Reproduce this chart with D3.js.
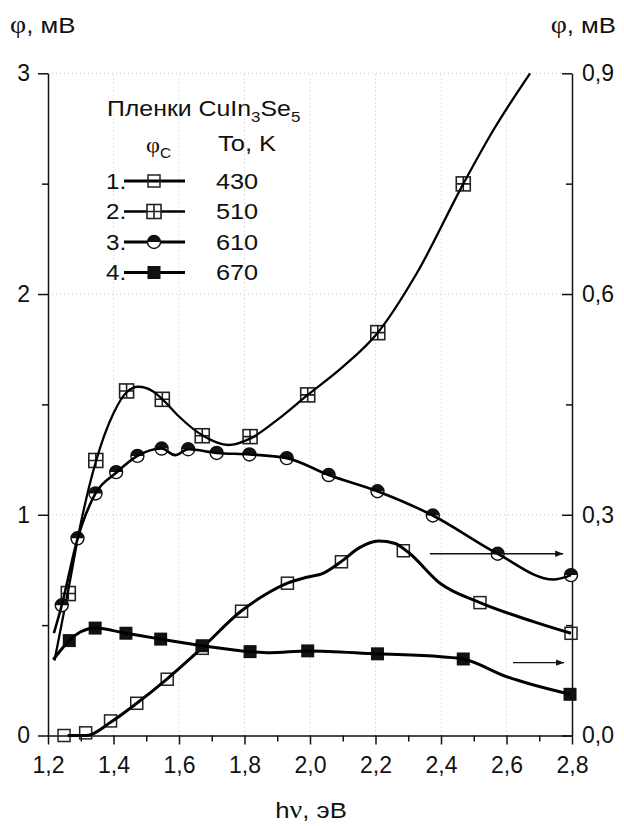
<!DOCTYPE html>
<html>
<head>
<meta charset="utf-8">
<script src="https://cdn.jsdelivr.net/npm/d3@7"></script>
<style>
  body { margin: 0; background: #fff; }
  svg { display: block; font-family: "Liberation Sans", Arial, sans-serif; }
</style>
</head>
<body>
<div id="chart"></div>
<script>
// Series markers and fitted curves.
// Curves 1, 2 use the left axis (0..3), curves 3, 4 the right one (0..0.9).
const marks1 = [[1.249, 0.0], [1.315, 0.012], [1.391, 0.066], [1.471, 0.146], [1.564, 0.255],
  [1.671, 0.395], [1.791, 0.563], [1.931, 0.69], [2.096, 0.787], [2.285, 0.837], [2.519, 0.602], [2.797, 0.463]];
const line1 = [[1.26, 0.0], [1.318, 0.0], [1.391, 0.06], [1.471, 0.146], [1.564, 0.257],
  [1.671, 0.398], [1.791, 0.565], [1.86, 0.635], [1.931, 0.69], [1.99, 0.717], [2.04, 0.735],
  [2.097, 0.79], [2.15, 0.85], [2.209, 0.881], [2.26, 0.87], [2.30, 0.83], [2.397, 0.69],
  [2.519, 0.602], [2.682, 0.516], [2.797, 0.463]];

const marks2 = [[1.262, 0.643], [1.346, 1.246], [1.44, 1.561], [1.549, 1.523], [1.671, 1.358],
  [1.817, 1.354], [1.993, 1.543], [2.207, 1.825], [2.468, 2.499]];
const line2 = [[1.22, 0.34], [1.262, 0.66], [1.30, 0.96], [1.346, 1.24], [1.40, 1.46], [1.44, 1.555],
  [1.476, 1.58], [1.52, 1.56], [1.555, 1.515], [1.60, 1.445], [1.671, 1.36], [1.751, 1.316],
  [1.817, 1.345], [1.90, 1.43], [1.993, 1.543], [2.10, 1.67], [2.207, 1.825], [2.326, 2.094],
  [2.468, 2.499], [2.56, 2.743], [2.672, 3.0]];

const marks3 = [[1.242, 0.177], [1.290, 0.268], [1.345, 0.329], [1.408, 0.358], [1.473, 0.38],
  [1.547, 0.39], [1.628, 0.389], [1.715, 0.384], [1.815, 0.382], [1.929, 0.377], [2.057, 0.354],
  [2.206, 0.332], [2.375, 0.299], [2.573, 0.247], [2.797, 0.218]];
const line3 = [[1.218, 0.139], [1.242, 0.177], [1.290, 0.267], [1.345, 0.329], [1.408, 0.357],
  [1.473, 0.38], [1.547, 0.39], [1.588, 0.381], [1.628, 0.389], [1.715, 0.384], [1.815, 0.382],
  [1.929, 0.377], [2.057, 0.354], [2.206, 0.332], [2.375, 0.299], [2.573, 0.247], [2.743, 0.212],
  [2.797, 0.218]];

const marks4 = [[1.265, 0.129], [1.344, 0.146], [1.438, 0.139], [1.544, 0.131], [1.671, 0.122],
  [1.817, 0.114], [1.993, 0.115], [2.206, 0.111], [2.468, 0.104], [2.794, 0.056]];
const line4 = [[1.216, 0.103], [1.265, 0.129], [1.30, 0.141], [1.344, 0.146], [1.438, 0.139],
  [1.544, 0.131], [1.671, 0.122], [1.817, 0.114], [1.878, 0.1125], [1.993, 0.115], [2.206, 0.111],
  [2.40, 0.107], [2.468, 0.104], [2.60, 0.08], [2.794, 0.056]];

// arrows pointing to the right axis: [x0, x1, value on right axis]
const arrows = [[2.366, 2.773, 0.247], [2.62, 2.776, 0.099]];

const xTicks = [1.2, 1.4, 1.6, 1.8, 2.0, 2.2, 2.4, 2.6, 2.8];
const leftTicks = [0, 1, 2, 3];
const rightTicks = [0, 0.3, 0.6, 0.9];
const legendRows = [
  { num: '1.', temp: '430', kind: 'open' },
  { num: '2.', temp: '510', kind: 'cross' },
  { num: '3.', temp: '610', kind: 'half' },
  { num: '4.', temp: '670', kind: 'filled' },
];

const W = 624, H = 826;
const svg = d3.select('#chart').append('svg').attr('width', W).attr('height', H);

const x = d3.scaleLinear().domain([1.2, 2.8]).range([48, 572]);
const yL = d3.scaleLinear().domain([0, 3]).range([735.5, 73.3]);
const yR = d3.scaleLinear().domain([0, 0.9]).range([735.5, 73.3]);
const comma = (d) => d3.format('.1f')(d).replace('.', ',');

// faint dotted grid
const grid = svg.append('g').attr('stroke', '#c8c8c8').attr('stroke-width', 1)
  .attr('stroke-dasharray', '1,3');
grid.selectAll('.gx').data(xTicks.slice(1, -1)).join('line')
  .attr('x1', (d) => x(d)).attr('x2', (d) => x(d)).attr('y1', yL(0)).attr('y2', yL(3));
grid.selectAll('.gy').data(leftTicks.slice(1)).join('line')
  .attr('x1', x(1.2)).attr('x2', x(2.8)).attr('y1', (d) => yL(d)).attr('y2', (d) => yL(d));

// axes
function styleAxis(g) {
  g.selectAll('path, line').attr('stroke', '#111').attr('stroke-width', 1.5);
  g.selectAll('text').attr('fill', '#111').style('font-size', '23px')
    .style('font-family', '"Liberation Sans", Arial, sans-serif');
}

const xMinor = d3.range(1.3, 2.8, 0.2);
svg.append('g').attr('transform', `translate(0,${yL(0)})`)
  .call(d3.axisBottom(x).tickValues(xMinor).tickSize(6).tickFormat('').tickSizeOuter(0))
  .call(styleAxis).select('.domain').remove();
svg.append('g').attr('transform', `translate(0,${yL(0)})`)
  .call(d3.axisBottom(x).tickValues(xTicks).tickSize(9).tickPadding(12).tickFormat(comma).tickSizeOuter(0))
  .call(styleAxis);

svg.append('g').attr('transform', `translate(${x(1.2)},0)`)
  .call(d3.axisLeft(yL).tickValues([0.5, 1.5, 2.5]).tickSize(6).tickFormat('').tickSizeOuter(0))
  .call(styleAxis).select('.domain').remove();
svg.append('g').attr('transform', `translate(${x(1.2)},0)`)
  .call(d3.axisLeft(yL).tickValues(leftTicks).tickSize(10).tickPadding(8).tickFormat(d3.format('d')).tickSizeOuter(0))
  .call(styleAxis);

svg.append('g').attr('transform', `translate(${x(2.8)},0)`)
  .call(d3.axisRight(yR).tickValues([0.15, 0.45, 0.75]).tickSize(-6).tickFormat('').tickSizeOuter(0))
  .call(styleAxis).select('.domain').remove();
svg.append('g').attr('transform', `translate(${x(2.8)},0)`)
  .call(d3.axisRight(yR).tickValues(rightTicks).tickSize(-10).tickPadding(10).tickFormat(comma).tickSizeOuter(0))
  .call(styleAxis);

// text helper: the original lettering is slightly wider than Arial
const stretched = (parent, xx, yy, size, sx, anchor) => parent.append('text')
  .attr('transform', `translate(${xx},${yy}) scale(${sx},1)`)
  .attr('text-anchor', anchor || 'start').attr('fill', '#111').style('font-size', size + 'px');

function phiTitle(xx, anchor) {
  const t = stretched(svg, xx, 33, 23, 1.12, anchor);
  t.append('tspan').text('φ').style('font-family', '"Liberation Serif", serif').style('font-size', '25px');
  t.append('tspan').text(', мВ');
}
phiTitle(10, 'start');
phiTitle(616, 'end');
const xt = stretched(svg, 311, 818, 23, 1.12, 'middle');
xt.append('tspan').text('h');
xt.append('tspan').text('ν').style('font-family', '"Liberation Serif", serif').style('font-size', '25px');
xt.append('tspan').text(', эВ');

// curves
const plot = svg.append('g');
const mkLine = (ys) => d3.line().x((d) => x(d[0])).y((d) => ys(d[1])).curve(d3.curveMonotoneX);
const series = [
  { line: line1, marks: marks1, ys: yL, kind: 'open', w: 3 },
  { line: line2, marks: marks2, ys: yL, kind: 'cross', w: 2.3 },
  { line: line3, marks: marks3, ys: yR, kind: 'half', w: 2.6 },
  { line: line4, marks: marks4, ys: yR, kind: 'filled', w: 3 },
];

function drawMarker(g, kind, cx, cy) {
  if (kind === 'open') {
    g.append('rect').attr('x', cx - 6).attr('y', cy - 6).attr('width', 12).attr('height', 12)
      .attr('fill', 'none').attr('stroke', '#222').attr('stroke-width', 1.5);
  } else if (kind === 'cross') {
    g.append('rect').attr('x', cx - 7).attr('y', cy - 7).attr('width', 14).attr('height', 14)
      .attr('fill', '#fff').attr('stroke', '#222').attr('stroke-width', 1.6);
    g.append('path').attr('d', `M${cx - 7},${cy}H${cx + 7}M${cx},${cy - 7}V${cy + 7}`)
      .attr('stroke', '#222').attr('stroke-width', 1.6);
  } else if (kind === 'half') {
    g.append('circle').attr('cx', cx).attr('cy', cy).attr('r', 6.5)
      .attr('fill', '#fff').attr('stroke', '#111').attr('stroke-width', 1.4);
    g.append('path').attr('d', `M${cx - 6.5},${cy}A6.5,6.5 0 0 1 ${cx + 6.5},${cy}Z`).attr('fill', '#111');
  } else {
    g.append('rect').attr('x', cx - 6.5).attr('y', cy - 6.5).attr('width', 13).attr('height', 13)
      .attr('fill', '#111');
  }
}

series.forEach((s) => {
  const mg = plot.append('g');
  s.marks.forEach((d) => drawMarker(mg, s.kind, x(d[0]), s.ys(d[1])));
  plot.append('path').datum(s.line).attr('d', mkLine(s.ys))
    .attr('fill', 'none').attr('stroke', '#000').attr('stroke-width', s.w);
});

// arrows
svg.append('defs').append('marker').attr('id', 'arr').attr('viewBox', '0 0 10 10')
  .attr('refX', 10).attr('refY', 5).attr('markerWidth', 12).attr('markerHeight', 8)
  .attr('markerUnits', 'userSpaceOnUse').attr('orient', 'auto')
  .append('path').attr('d', 'M0,1L10,5L0,9Z').attr('fill', '#111');
svg.selectAll('.arrow').data(arrows).join('line')
  .attr('x1', (d) => x(d[0])).attr('x2', (d) => x(d[1]))
  .attr('y1', (d) => yR(d[2])).attr('y2', (d) => yR(d[2]))
  .attr('stroke', '#111').attr('stroke-width', 1.3).attr('marker-end', 'url(#arr)');

// legend
const lg = svg.append('g');
const title = stretched(lg, 107, 116, 22, 1.13);
title.append('tspan').text('Пленки CuIn');
title.append('tspan').text('3').attr('dy', 6).style('font-size', '15px');
title.append('tspan').text('Se').attr('dy', -6);
title.append('tspan').text('5').attr('dy', 6).style('font-size', '15px');

const phiC = stretched(lg, 146, 152, 22, 1.1);
phiC.append('tspan').text('φ').style('font-family', '"Liberation Serif", serif');
phiC.append('tspan').text('C').attr('dy', 6).style('font-size', '14px');
stretched(lg, 218, 151, 22, 1.16).text('To, K');

legendRows.forEach((r, i) => {
  const cy = 181 + i * 30.5;
  stretched(lg, 106, cy + 7.5, 22, 1.1).text(r.num);
  lg.append('line').attr('x1', 124).attr('x2', 185).attr('y1', cy).attr('y2', cy)
    .attr('stroke', '#000').attr('stroke-width', r.kind === 'cross' ? 2.3 : 3);
  drawMarker(lg, r.kind, 154, cy);
  stretched(lg, 216, cy + 7.5, 22, 1.15).text(r.temp);
});
</script>
</body>
</html>
